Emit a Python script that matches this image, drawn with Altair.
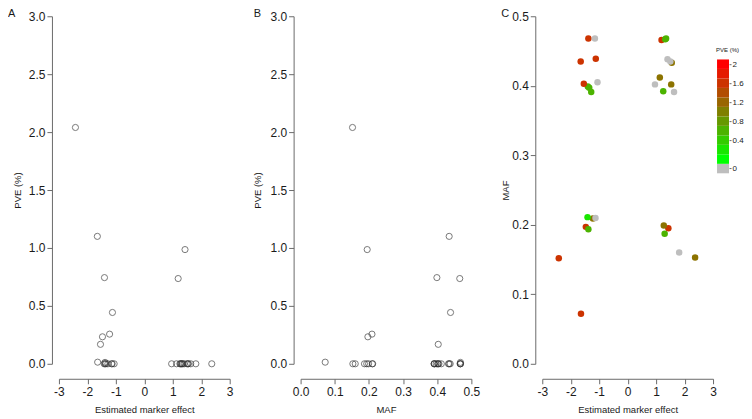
import altair as alt
import pandas as pd

# ---- data (one entry per marker) ----
effect = [-2.42, -1.65, -1.40, -1.12, -1.22, -1.47, -1.54, -1.64, -1.38,
          -1.15, -1.06, -1.35, -1.28, -1.41, -1.13, -1.38,
          1.19, 1.43, 1.32, 1.35, 1.40, 1.55, 1.50, 1.13, 0.96, 1.53,
          1.25, 1.63, 1.27, 1.30, 1.81, 2.37]
maf = [0.152, 0.435, 0.399, 0.439, 0.209, 0.197, 0.403, 0.072, 0.468,
       0.468, 0.405, 0.397, 0.391, 0.211, 0.2098, 0.1936,
       0.466, 0.195, 0.467, 0.468, 0.438, 0.433, 0.435, 0.412, 0.402, 0.402,
       0.392, 0.391, 0.199, 0.187, 0.160, 0.153]
pve = [2.04, 1.10, 0.744, 0.443, 0.256, 0.233, 0.168, 0.014, 0.012,
       0, 0, 0, 0, 0, 0, 0,
       0.736, 0.986, 0, 0, 0, 0, 0, 0, 0, 0,
       0, 0, 0, 0, 0, 0]
# colour level of each dot in panel C
colour_level = [1.6, 1.6, 0.6, 1.6, 1.1, 1.6, 1.6, 1.6, 1.6,
                0, 0, 0.6, 0.6, 0.2, 0, 0.6,
                1.6, 1.6, 0.6, 0.6, 0, 1.1, 0, 1.1, 0, 1.1,
                0.6, 0, 1.1, 0.6, 0, 1.1]

effect_ticks = [-3, -2, -1, 0, 1, 2, 3]
pve_ticks = [0, 0.5, 1.0, 1.5, 2.0, 2.5, 3.0]
maf_ticks = [0, 0.1, 0.2, 0.3, 0.4, 0.5]

# colour bar of panel C
legend_pos = [-0.2, 0.0, 0.2, 0.4, 0.6, 0.8, 1.0, 1.2, 1.4, 1.6, 1.8, 2.0]
legend_colour = [0, 0.001, 0.2, 0.4, 0.6, 0.8, 1.0, 1.2, 1.4, 1.6, 1.8, 2.0]
legend_ticks = [-0.2, 0.4, 0.8, 1.2, 1.6, 2.0]

panel_letters = ["A", "B", "C"]

df = pd.DataFrame({"effect": effect, "maf": maf, "pve": pve, "colour": colour_level})
legend_df = pd.DataFrame({"pos": legend_pos, "colour": legend_colour})

W, H = 171, 348
FONT = "Liberation Sans"
AX = "#6a6a6a"
TXT = "#1a1a1a"

colour_scale = alt.Scale(domain=[0, 0.001, 2.0],
                         range=["#bebebe", "#00ff00", "#ff0000"],
                         interpolate="rgb")

NEG = "datum.value < 0 ? '-' + format(-datum.value, 'd') : format(datum.value, 'd')"


def xaxis(values, title, label_expr=None, fmt=None):
    kw = dict(values=values, title=title, offset=15, tickSize=5, labelPadding=3,
              titlePadding=7, labelFontSize=12, titleFontSize=9.5, grid=False,
              domainColor=AX, tickColor=AX, labelColor=TXT, titleColor=TXT,
              labelFont=FONT, titleFont=FONT, titleFontWeight="normal",
              labelFlush=False, labelOverlap=False)
    if label_expr:
        kw["labelExpr"] = label_expr
    if fmt:
        kw["format"] = fmt
    return alt.Axis(**kw)


def yaxis(values, title, title_x):
    return alt.Axis(values=values, title=title, format=".1f", offset=7, tickSize=5,
                    labelPadding=2, labelFontSize=12, titleFontSize=9.5, grid=False,
                    domainColor=AX, tickColor=AX, labelColor=TXT, titleColor=TXT,
                    labelFont=FONT, titleFont=FONT, titleFontWeight="normal",
                    titleX=title_x, titleY=H / 2, titleAngle=270,
                    titleAlign="center", titleBaseline="middle",
                    labelFlush=False, labelOverlap=False)


def letter(i, dx):
    return alt.Chart(pd.DataFrame({"t": [panel_letters[i]]})).mark_text(
        font=FONT, fontSize=11, align="left", baseline="alphabetic", color=TXT
    ).encode(text="t:N", x=alt.value(dx), y=alt.value(1))


open_pts = dict(shape="circle", filled=False, size=38, strokeWidth=0.9, color="#2e2e2e")

pts_a = alt.Chart(df).mark_point(**open_pts).encode(
    x=alt.X("effect:Q", scale=alt.Scale(domain=[-3, 3], nice=False, zero=False),
            axis=xaxis(effect_ticks, "Estimated marker effect", label_expr=NEG)),
    y=alt.Y("pve:Q", scale=alt.Scale(domain=[0, 3], nice=False),
            axis=yaxis(pve_ticks, "PVE (%)", -34.5)),
)
panel_a = alt.layer(pts_a, letter(0, -51)).properties(width=W, height=H)

pts_b = alt.Chart(df).mark_point(**open_pts).encode(
    x=alt.X("maf:Q", scale=alt.Scale(domain=[0, 0.5], nice=False, zero=False),
            axis=xaxis(maf_ticks, "MAF", fmt=".1f")),
    y=alt.Y("pve:Q", scale=alt.Scale(domain=[0, 3], nice=False),
            axis=yaxis(pve_ticks, "PVE (%)", -36)),
)
panel_b = alt.layer(pts_b, letter(1, -47)).properties(width=W, height=H)

dots_c = alt.Chart(df).mark_circle(size=42, opacity=1).encode(
    x=alt.X("effect:Q", scale=alt.Scale(domain=[-3, 3], nice=False, zero=False),
            axis=xaxis(effect_ticks, "Estimated marker effect", label_expr=NEG)),
    y=alt.Y("maf:Q", scale=alt.Scale(domain=[0, 0.5], nice=False),
            axis=yaxis(maf_ticks, "MAF", -30)),
    color=alt.Color("colour:Q", scale=colour_scale, legend=None),
)

bar_c = alt.Chart(legend_df).transform_calculate(
    lo="datum.pos - 0.1", hi="datum.pos + 0.1"
).mark_rect().encode(
    x=alt.value(175), x2=alt.value(187),
    y=alt.Y("lo:Q", scale=alt.Scale(domain=[-4.3158, 3.0105], nice=False, zero=False),
            axis=alt.Axis(orient="right", values=legend_ticks, offset=16, tickSize=2,
                          labelPadding=1, labelFontSize=8, labelFont=FONT,
                          labelColor=TXT, tickColor=AX, domain=False, grid=False,
                          labelExpr="datum.value < 0 ? '0' : format(datum.value, '')",
                          labelFlush=False, labelOverlap=False,
                          title="PVE (%)", titleFontSize=6, titleFont=FONT,
                          titleFontWeight="normal", titleColor=TXT, titleAngle=0,
                          titleX=-2, titleY=33, titleAlign="center",
                          titleBaseline="middle")),
    y2="hi:Q",
    color=alt.Color("colour:Q", scale=colour_scale, legend=None),
)

panel_c = alt.layer(dots_c, bar_c, letter(2, -41)).resolve_scale(
    y="independent").properties(width=W, height=H)

chart = alt.hconcat(panel_a, panel_b, panel_c, spacing=71, bounds="flush").properties(
    padding=0, background="white"
).configure_view(strokeWidth=0, stroke="transparent")

chart.save("out.html", embed_options={"renderer": "svg", "actions": False})
